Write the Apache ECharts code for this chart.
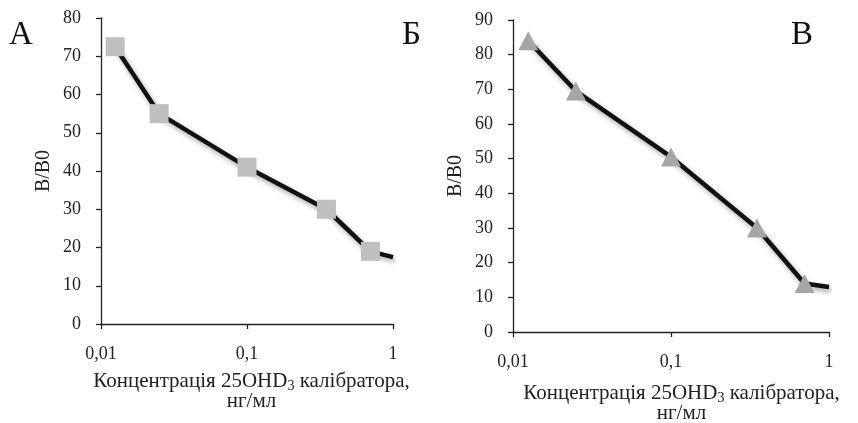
<!DOCTYPE html>
<html><head><meta charset="utf-8">
<script src="https://cdn.jsdelivr.net/npm/echarts@6/dist/echarts.min.js"></script>
<style>html,body{margin:0;padding:0;background:#fff}#c{width:858px;height:423px}</style>
</head><body><div id="c"></div>
<script>
const concentrations = [0.0125, 0.025, 0.1, 0.35, 0.7, 1];
const valuesA = [72.5, 55, 41, 30, 19, 17.5];
const valuesB = [84, 69.5, 50.5, 30, 14, 13];
const xTicks = [0.01, 0.1, 1];
const yTickMaxA = 80, yTickMaxB = 90;
const panelLetters = ['А', 'Б', 'В'];
const yName = 'В/В0';

const font = '"Liberation Serif", "Times New Roman", serif';
const axisCol = '#222';

function pts(vals){
  return concentrations.map((c,i)=>({value:[c, vals[i]], symbol: i===concentrations.length-1 ? 'none' : undefined}));
}
function xAx(gi,shift,gap){
  return {
    type:'log', logBase:10, min:xTicks[0], max:xTicks[xTicks.length-1], gridIndex:gi,
    axisLine:{lineStyle:{color:axisCol,width:1.3}},
    axisTick:{show:true,length:5,lineStyle:{color:axisCol,width:1.3}},
    minorTick:{show:false}, splitLine:{show:false},
    axisLabel:{color:'#222',fontFamily:font,fontSize:18,margin:21,
      formatter:v=>String(v).replace('.',',')},
    name:'{a|Концентрація 25OHD}{s|3}{a| калібратора,}\n{a|нг/мл}',
    nameLocation:'middle', nameGap:gap,
    nameTextStyle:{color:'#222',fontFamily:font,fontSize:21,lineHeight:20,align:'center',
      padding:[0,0,0,shift],
      rich:{a:{fontFamily:font,fontSize:21,color:'#222',lineHeight:20},
            s:{fontFamily:font,fontSize:14,color:'#222',lineHeight:20,padding:[10,0,0,0]}}}
  };
}
function yAx(gi,max){
  return {
    type:'value', min:0, max:max, interval:10, gridIndex:gi,
    axisLine:{show:true,lineStyle:{color:axisCol,width:1.3}},
    axisTick:{show:true,length:5,lineStyle:{color:axisCol,width:1.3}},
    splitLine:{show:false},
    axisLabel:{color:'#222',fontFamily:font,fontSize:18,margin:20},
    name:yName, nameLocation:'middle', nameGap:47, nameRotate:90,
    nameTextStyle:{color:'#222',fontFamily:font,fontSize:20}
  };
}
const lineStyle = {color:'#111',width:4.5,shadowColor:'rgba(0,0,0,0.35)',shadowBlur:5,shadowOffsetX:2,shadowOffsetY:3};
const letterStyle = {fontFamily:font,fontSize:33,fontWeight:'normal',color:'#111'};
const chart = echarts.init(document.getElementById('c'),null,{renderer:'canvas'});
chart.setOption({
  animation:false,
  backgroundColor:'#fff',
  grid:[
    {left:101,right:465,top:18,bottom:99,containLabel:false,outerBoundsMode:'none'},
    {left:513,right:29,top:20,bottom:91,containLabel:false,outerBoundsMode:'none'}
  ],
  title:[
    {text:panelLetters[0],left:4,top:14,textStyle:letterStyle},
    {text:panelLetters[1],left:397,top:14,textStyle:letterStyle},
    {text:panelLetters[2],left:786,top:14,textStyle:letterStyle}
  ],
  xAxis:[xAx(0,9,47),xAx(1,21,51)],
  yAxis:[yAx(0,yTickMaxA),yAx(1,yTickMaxB)],
  series:[
    {type:'line',xAxisIndex:0,yAxisIndex:0,data:pts(valuesA),symbol:'rect',symbolSize:19,
     itemStyle:{color:'#BFBFBF'},lineStyle:lineStyle,clip:true,z:3},
    {type:'line',xAxisIndex:1,yAxisIndex:1,data:pts(valuesB),symbol:'triangle',symbolSize:[20,19],
     itemStyle:{color:'#A6A6A6'},lineStyle:lineStyle,clip:true,z:3}
  ]
});
</script></body></html>
